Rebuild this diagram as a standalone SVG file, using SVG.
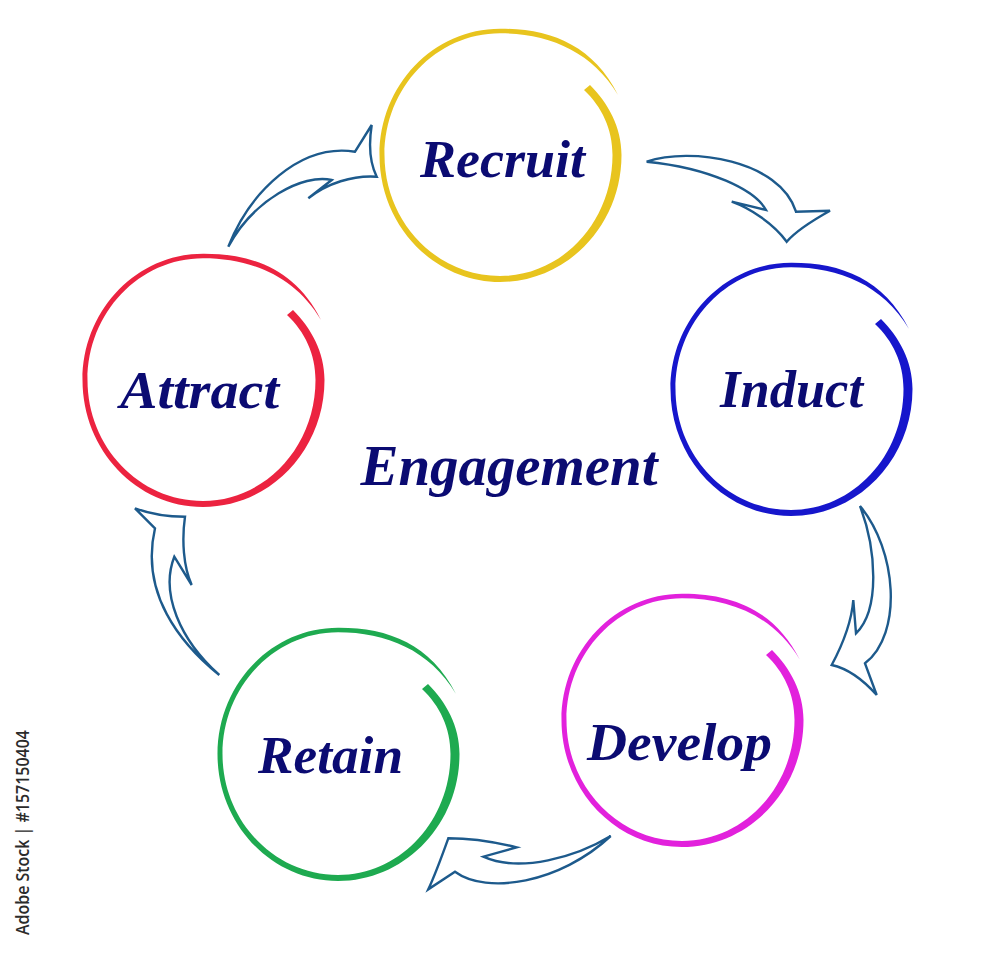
<svg xmlns="http://www.w3.org/2000/svg" xmlns:xlink="http://www.w3.org/1999/xlink" width="1000" height="962" viewBox="0 0 1000 962">
<style>
.lbl{font-family:"Liberation Serif","Times New Roman",serif;font-weight:bold;font-style:italic;fill:#0b0b72;text-anchor:middle;}
.arr{fill:#ffffff;stroke:#1d5a8c;stroke-width:2.4;stroke-linejoin:miter;}
.wm{font-family:"Open Sans","Liberation Sans",sans-serif;font-weight:600;fill:#2b2b2b;}
</style>
<defs>
<path id="ring" d="M 90,-70 C 108,-52 121.5,-28 121.5,0 C 121.5,70.1 67.1,127 0,127 C -66.6,127 -120.5,70.1 -120.5,0 C -120.5,-69.7 -66.6,-126.25 0,-126.25 C 50,-126.5 93,-110 118,-60 C 92,-104 48,-121.75 0,-121.75 C -63.8,-121.75 -115.5,-67.2 -115.5,0 C -115.5,66.8 -63.8,121 0,121 C 62.1,121 112.5,66.8 112.5,0 C 112.5,-26 102,-48 84,-65 Z"/>
</defs>
<rect width="1000" height="962" fill="#ffffff"/>
<g id="connectors">
<path class="arr" d="M 228.3,246.7 C 250,192 300,143 355,151.7 L 371.7,125 C 368.3,146.7 370,163.3 376.7,176.7 C 353.3,175 326.7,183.3 308.3,198.3 L 331.7,180 C 303.3,173.3 253.3,200 228.3,246.7 Z"/>
<path class="arr" d="M 646.7,161.7 C 690,146.7 780,160 796,211.7 L 830,210.7 C 813.3,220 796.7,230 786.7,241.7 C 773.3,223.3 750,208.3 731.7,201.7 L 766,210 C 755,190 710,168 646.7,161.7 Z"/>
<path class="arr" d="M 860,506 C 896.7,550 903.3,633.3 865,663.3 L 876.7,695 C 863.3,680 846.7,668.3 831.7,665 C 843.3,643.3 851.7,620 853.3,600 L 856,633.3 C 880,610 876.7,550 860,506 Z"/>
<path class="arr" d="M 610.7,836 C 576.7,856.7 520,873.3 483.3,856.7 L 516.7,847.3 C 493.3,841.7 466.7,838.3 448.3,838.3 C 441.7,856.7 435,875 428.3,889.3 L 455,871.7 C 486.7,895 560,883.3 610.7,836 Z"/>
<path class="arr" d="M 219.3,675 C 180,643.3 140,593.3 155,528.3 L 135,508.3 C 153.3,515 170,516.7 185,516.7 C 181.7,540 183.3,566.7 191.7,585 L 174.3,556.7 C 160,593.3 180,640 219.3,675 Z"/>
</g>
<g id="recruit">
<use xlink:href="#ring" href="#ring" transform="translate(500,155)" fill="#e8c41e"/>
<text class="lbl" x="502.5" y="177" font-size="52" textLength="165" lengthAdjust="spacingAndGlyphs">Recruit</text>
</g>
<g id="induct">
<use xlink:href="#ring" href="#ring" transform="translate(791,389)" fill="#1616cc"/>
<text class="lbl" x="791.5" y="407" font-size="52" textLength="143" lengthAdjust="spacingAndGlyphs">Induct</text>
</g>
<g id="develop">
<use xlink:href="#ring" href="#ring" transform="translate(682,720)" fill="#e221dc"/>
<text class="lbl" x="679.5" y="760" font-size="52" textLength="185" lengthAdjust="spacingAndGlyphs">Develop</text>
</g>
<g id="retain">
<use xlink:href="#ring" href="#ring" transform="translate(338,754)" fill="#1eaa50"/>
<text class="lbl" x="330.5" y="773" font-size="52" textLength="145" lengthAdjust="spacingAndGlyphs">Retain</text>
</g>
<g id="attract">
<use xlink:href="#ring" href="#ring" transform="translate(203,380)" fill="#ec2340"/>
<text class="lbl" x="199.5" y="408" font-size="52" textLength="159" lengthAdjust="spacingAndGlyphs">Attract</text>
</g>
<g id="engagement">
<text class="lbl" x="509" y="485" font-size="57" textLength="297" lengthAdjust="spacingAndGlyphs">Engagement</text>
</g>
<text class="wm" transform="translate(29,935) rotate(-90)" font-size="18" textLength="205" lengthAdjust="spacingAndGlyphs">Adobe Stock | #157150404</text>
</svg>
